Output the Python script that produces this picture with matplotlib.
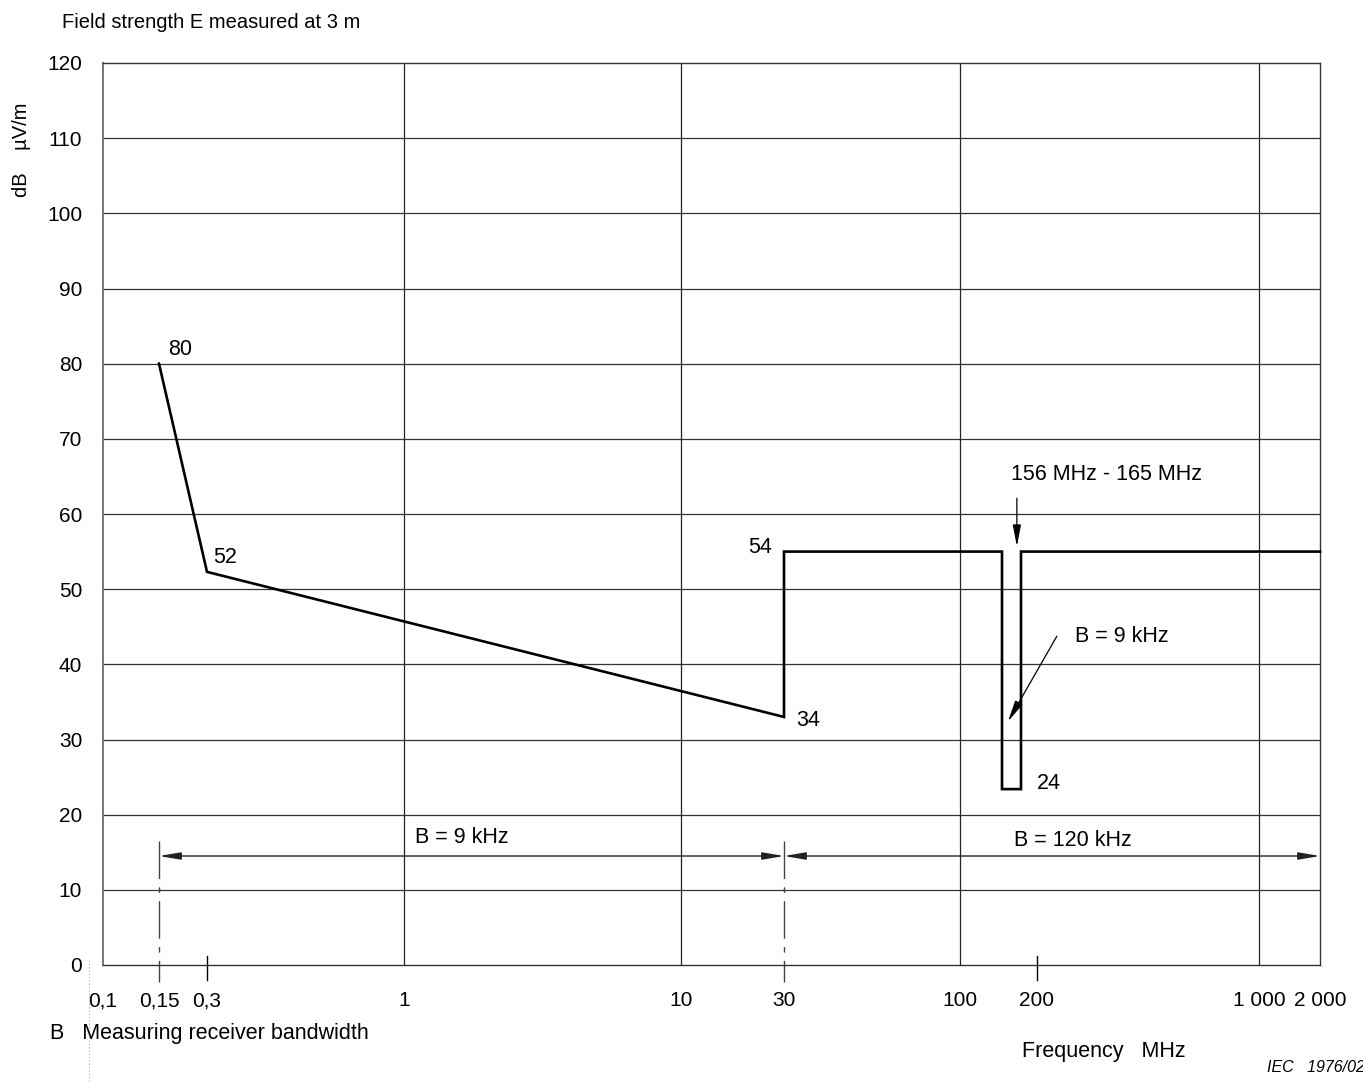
import numpy as np
import matplotlib
matplotlib.use("Agg")
import matplotlib.pyplot as plt
from matplotlib.lines import Line2D

plt.rcParams['font.family'] = ['Liberation Sans', 'DejaVu Sans']

# ---- data ----
limit_freq = [0.15, 0.3, 30, 30, 156, 156, 165, 165, 2000]   # MHz
limit_db = [80, 52.3, 33, 55, 55, 23.4, 23.4, 55, 55]         # dB(uV/m)

x_tick_values = [0.1, 0.15, 0.3, 1, 10, 30, 100, 200, 1000, 2000]
x_tick_labels = ['0,1', '0,15', '0,3', '1', '10', '30', '100', '200', '1 000', '2 000']
y_ticks = list(range(0, 130, 10))
grid_freqs = [1, 10, 100, 1000]

point_labels = ['80', '52', '54', '34', '24']
band_9k = (0.15, 30)
band_120k = (30, 2000)
band_arrow_db = 14.5

# ---- non-uniform log scale (as drawn in the original) ----
knot_f = np.log10([0.1, 0.15, 0.3, 1, 10, 30, 100, 156, 165, 200, 1000, 2000])
knot_p = np.array([103, 159, 207, 404, 681, 784, 960, 1002, 1021, 1037, 1259, 1320], float)
SLOPE = 300.0


def fwd(x):
    x = np.asarray(x, float)
    lx = np.log10(np.clip(x, 1e-6, None))
    out = np.interp(lx, knot_f, knot_p)
    out = np.where(lx < knot_f[0], knot_p[0] + (lx - knot_f[0]) * SLOPE, out)
    out = np.where(lx > knot_f[-1], knot_p[-1] + (lx - knot_f[-1]) * SLOPE, out)
    return out


def inv(p):
    p = np.asarray(p, float)
    lx = np.interp(p, knot_p, knot_f)
    lx = np.where(p < knot_p[0], knot_f[0] + (p - knot_p[0]) / SLOPE, lx)
    lx = np.where(p > knot_p[-1], knot_f[-1] + (p - knot_p[-1]) / SLOPE, lx)
    return 10 ** lx


FS = 15.5
W, H = 1363, 1082
fig = plt.figure(figsize=(W / 100, H / 100), dpi=100)
ax = fig.add_axes([103 / W, 1 - 965 / H, (1320 - 103) / W, (965 - 63) / H])
ax.set_xscale('function', functions=(fwd, inv))
ax.set_xlim(0.1, 2000)
ax.set_ylim(0, 120)

# grid
for g in grid_freqs:
    ax.axvline(g, color='#222222', lw=0.9, zorder=1)
for y in y_ticks[1:-1]:
    ax.axhline(y, color='#333333', lw=0.9, zorder=1)
for s in ax.spines.values():
    s.set_color('#333333')
    s.set_linewidth(1.0)
ax.spines['left'].set_color('#777777')
ax.spines['left'].set_linewidth(1.4)

ax.set_yticks(y_ticks)
ax.set_yticklabels([str(v) for v in y_ticks])
ax.set_xticks(x_tick_values)
ax.set_xticklabels(x_tick_labels)
ax.xaxis.set_minor_locator(matplotlib.ticker.NullLocator())
ax.tick_params(axis='both', which='both', length=0, labelsize=15)
ax.tick_params(axis='y', pad=15)
ax.tick_params(axis='x', pad=19)

# limit line
ax.plot(limit_freq, limit_db, color='black', lw=1.9, zorder=3,
        solid_joinstyle='miter', clip_on=False)

# dash-dot markers at band boundaries
for f in [band_9k[0], band_9k[1]]:
    ax.plot([f, f], [16.5, -2.2], color='#444444', lw=1.0,
            linestyle=(0, (27, 6, 4, 6)), clip_on=False, zorder=2)
# short ticks
for f in [0.3, 200]:
    ax.plot([f, f], [1.2, -2.0], color='black', lw=1.0, clip_on=False, zorder=2)

# bandwidth arrows
astyle = dict(arrowstyle='<|-|>,head_length=1.3,head_width=0.22', color='#222222',
              lw=1.0, shrinkA=0, shrinkB=0, mutation_scale=10)
for band in [band_9k, band_120k]:
    a = ax.annotate('', xy=(band[1], band_arrow_db), xytext=(band[0], band_arrow_db),
                    arrowprops=astyle, annotation_clip=False)
    a.arrow_patch.set_clip_on(False)
ax.text(1.62, 17.0, 'B = 9 kHz', ha='center', va='center', fontsize=FS)
ax.text(260, 16.5, 'B = 120 kHz', ha='center', va='center', fontsize=FS)

# point labels
anchors = [(0.15, 80), (0.3, 52.3), (30, 55), (30, 33), (165, 23.4)]
offsets = [(6.5, 10), (4.3, 10), (-8.6, 2.9), (8.6, -2.9), (11.5, 4.3)]
has = ['left', 'left', 'right', 'left', 'left']
for lab, xy, off, ha in zip(point_labels, anchors, offsets, has):
    ax.annotate(lab, xy=xy, xytext=off, textcoords='offset points',
                ha=ha, va='center', fontsize=FS)

# notch annotations
ax.text(332, 65.2, '156 MHz - 165 MHz', ha='center', va='center', fontsize=FS)
nstyle = dict(arrowstyle='-|>,head_length=1.3,head_width=0.25', color='black',
              lw=0.9, shrinkA=0, shrinkB=0, mutation_scale=10)
ax.annotate('', xy=(163, 55.7), xytext=(163, 62.1), arrowprops=nstyle)
ax.text(263, 43.7, 'B = 9 kHz', ha='left', va='center', fontsize=FS)
ax.annotate('', xy=(158.8, 32.4), xytext=(231, 43.75), arrowprops=nstyle)

# figure texts
fig.text(62 / W, 1 - 22 / H, 'Field strength E measured at 3 m', ha='left', va='center', fontsize=14.5)
fig.text(22 / W, 1 - 150 / H, 'dB    µV/m', rotation=90, ha='center', va='center', fontsize=14.5)
fig.text(50 / W, 1 - 1033 / H, 'B   Measuring receiver bandwidth', ha='left', va='center', fontsize=FS)
fig.text(1022 / W, 1 - 1051 / H, 'Frequency   MHz', ha='left', va='center', fontsize=FS)
fig.text(1267 / W, 1 - 1068 / H, 'IEC   1976/02', ha='left', va='center', fontsize=11.5, style='italic')

# faint dotted scan artefact line
fig.add_artist(Line2D([89 / W, 89 / W], [1 - 960 / H, 0], color='#aaaaaa', lw=0.8,
                      linestyle=(0, (1, 2))))

fig.savefig('out.png', dpi=100)
